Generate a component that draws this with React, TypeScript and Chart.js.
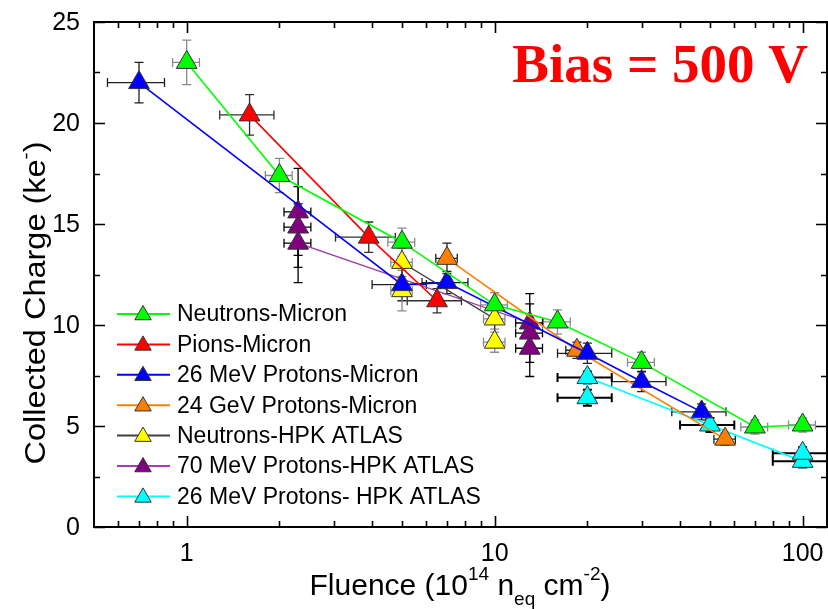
import React, { useEffect, useRef } from "react";
import { Chart, registerables } from "chart.js";

Chart.register(...registerables);

// ---------- data ----------
const seriesNames = [
  "Neutrons-Micron",
  "Pions-Micron",
  "26 MeV Protons-Micron",
  "24 GeV Protons-Micron",
  "Neutrons-HPK ATLAS",
  "70 MeV Protons-HPK ATLAS",
  "26 MeV Protons- HPK ATLAS",
];

const neutronsMicronX = [1, 2, 5, 10, 16, 30, 70, 100];
const neutronsMicronY = [23.0, 17.4, 14.1, 11.0, 10.15, 8.15, 4.95, 5.05];
const neutronsMicronYErr = [1.1, 0.85, 0.7, 0.6, 0.6, 0.5, 0.35, 0.35];
const neutronsMicronXErr = [0.1, 0.1, 0.1, 0.1, 0.1, 0.1, 0.1, 0.1];

const pionsMicronX = [1.6, 3.9, 6.5];
const pionsMicronY = [20.4, 14.35, 11.2];
const pionsMicronYErr = [1.0, 0.75, 0.6];
const pionsMicronXErr = [0.2, 0.22, 0.2];

const protons26MicronX = [0.7, 5, 7, 20, 30, 47];
const protons26MicronY = [22.0, 12.0, 12.1, 8.6, 7.2, 5.7];
const protons26MicronYErr = [1.0, 0.8, 0.55, 0.5, 0.5, 0.4];
const protons26MicronXErr = [0.21, 0.2, 0.17, 0.2, 0.2, 0.2];

const protons24GeVMicronX = [7, 18.5, 56];
const protons24GeVMicronY = [13.3, 8.75, 4.35];
const protons24GeVMicronYErr = [0.75, 0.4, 0.3];
const protons24GeVMicronXErr = [0.08, 0.08, 0.08];

const neutronsHpkX = [5, 5, 10, 10];
const neutronsHpkY = [11.7, 13.1, 10.3, 9.15];
const neutronsHpkYErr = [1.0, 0.7, 0.5, 0.5];
const neutronsHpkXErr = [0.08, 0.08, 0.08, 0.08];

const protons70HpkX = [2.3, 2.3, 2.3, 13, 13, 13];
const protons70HpkY = [15.6, 14.85, 14.05, 10.1, 9.6, 8.85];
const protons70HpkYErr = [2.15, 2.0, 1.95, 1.45, 1.45, 1.4];
const protons70HpkXErr = [0.1, 0.1, 0.1, 0.1, 0.1, 0.1];

const protons26HpkX = [20, 20, 50, 100, 100];
const protons26HpkY = [6.4, 7.4, 5.05, 3.25, 3.65];
const protons26HpkYErr = [0.4, 0.3, 0.35, 0.3, 0.3];
const protons26HpkXErr = [0.2, 0.2, 0.2, 0.2, 0.2];

const xMajorTicks = [1, 10, 100];
const xMinorTicks = [0.6, 0.7, 0.8, 0.9, 2, 3, 4, 5, 6, 7, 8, 9, 20, 30, 40, 50, 60, 70, 80, 90];
const yMajorTicks = [0, 5, 10, 15, 20, 25];
const yMinorTicks = [2.5, 7.5, 12.5, 17.5, 22.5];

const lineColors = ["#00ff00", "#ff0000", "#0000ff", "#ff8000", "#404040", "#a040a8", "#00ffff"];
const fillColors = ["#00ff00", "#ff0000", "#0000ff", "#ff8000", "#ffff00", "#800080", "#00ffff"];
const errColors = ["#8a8a8a", "#303030", "#202020", "#202020", "#8a8a8a", "#000000", "#000000"];
const lineWidths = [1.6, 1.6, 1.6, 1.6, 1.4, 1.3, 1.8];

const FONT = "'Liberation Sans', Arial, sans-serif";

function build(xs: number[], ys: number[], ye: number[], xf: number[]) {
  return xs.map((x, i) => ({ x, y: ys[i], ye: ye[i], xf: xf[i] }));
}

const seriesData = [
  build(neutronsMicronX, neutronsMicronY, neutronsMicronYErr, neutronsMicronXErr),
  build(pionsMicronX, pionsMicronY, pionsMicronYErr, pionsMicronXErr),
  build(protons26MicronX, protons26MicronY, protons26MicronYErr, protons26MicronXErr),
  build(protons24GeVMicronX, protons24GeVMicronY, protons24GeVMicronYErr, protons24GeVMicronXErr),
  build(neutronsHpkX, neutronsHpkY, neutronsHpkYErr, neutronsHpkXErr),
  build(protons70HpkX, protons70HpkY, protons70HpkYErr, protons70HpkXErr),
  build(protons26HpkX, protons26HpkY, protons26HpkYErr, protons26HpkXErr),
];

function triangle(ctx: CanvasRenderingContext2D, x: number, y: number, r: number) {
  const s = Math.sin(Math.PI / 3) * r;
  ctx.beginPath();
  ctx.moveTo(x, y - r);
  ctx.lineTo(x + s, y + r / 2);
  ctx.lineTo(x - s, y + r / 2);
  ctx.closePath();
}

const errorBarPlugin = {
  id: "errorBars",
  beforeDatasetsDraw(chart: any) {
    const ctx = chart.ctx;
    const xs = chart.scales.x;
    const ys = chart.scales.y;
    chart.data.datasets.forEach((ds: any, di: number) => {
      ctx.save();
      ctx.strokeStyle = errColors[di];
      ctx.lineWidth = di === 6 ? 2 : 1.3;
      const cap = 4.5;
      ds.data.forEach((p: any) => {
        const px = xs.getPixelForValue(p.x);
        const py = ys.getPixelForValue(p.y);
        const y0 = ys.getPixelForValue(p.y - p.ye);
        const y1 = ys.getPixelForValue(p.y + p.ye);
        const x0 = xs.getPixelForValue(p.x * (1 - p.xf));
        const x1 = xs.getPixelForValue(p.x * (1 + p.xf));
        ctx.beginPath();
        ctx.moveTo(px, y0); ctx.lineTo(px, y1);
        ctx.moveTo(px - cap, y0); ctx.lineTo(px + cap, y0);
        ctx.moveTo(px - cap, y1); ctx.lineTo(px + cap, y1);
        ctx.moveTo(x0, py); ctx.lineTo(x1, py);
        ctx.moveTo(x0, py - cap); ctx.lineTo(x0, py + cap);
        ctx.moveTo(x1, py - cap); ctx.lineTo(x1, py + cap);
        ctx.stroke();
      });
      ctx.restore();
    });
  },
};

const framePlugin = {
  id: "frame",
  afterDraw(chart: any) {
    const ctx = chart.ctx;
    const { left, right, top, bottom } = chart.chartArea;
    const xs = chart.scales.x;
    const ys = chart.scales.y;
    ctx.save();
    ctx.strokeStyle = "#000";
    ctx.lineWidth = 2;
    ctx.strokeRect(left, top, right - left, bottom - top);
    ctx.lineWidth = 1.6;
    ctx.beginPath();
    const xt = (vals: number[], len: number) => {
      vals.forEach((v) => {
        const p = Math.round(xs.getPixelForValue(v)) + 0.5;
        ctx.moveTo(p, bottom); ctx.lineTo(p, bottom - len);
        ctx.moveTo(p, top); ctx.lineTo(p, top + len);
      });
    };
    const yt = (vals: number[], len: number) => {
      vals.forEach((v) => {
        const p = Math.round(ys.getPixelForValue(v)) + 0.5;
        ctx.moveTo(left, p); ctx.lineTo(left + len, p);
        ctx.moveTo(right, p); ctx.lineTo(right - len, p);
      });
    };
    xt(xMajorTicks, 11);
    xt(xMinorTicks, 6);
    yt(yMajorTicks, 11);
    yt(yMinorTicks, 6);
    ctx.stroke();
    // tick labels
    ctx.fillStyle = "#000";
    ctx.font = `25px ${FONT}`;
    ctx.textBaseline = "alphabetic";
    ctx.textAlign = "center";
    xMajorTicks.forEach((v) => {
      ctx.fillText(String(v), xs.getPixelForValue(v), bottom + 34);
    });
    ctx.textAlign = "right";
    ctx.textBaseline = "middle";
    yMajorTicks.forEach((v) => {
      ctx.fillText(String(v), left - 14, ys.getPixelForValue(v) + 1);
    });
    ctx.restore();
  },
};

const legendPlugin = {
  id: "customLegend",
  afterDatasetsDraw(chart: any) {
    const ctx = chart.ctx;
    const { left, bottom } = chart.chartArea;
    ctx.save();
    ctx.font = `23px ${FONT}`;
    ctx.textBaseline = "middle";
    ctx.textAlign = "left";
    seriesNames.forEach((name, i) => {
      const y = bottom - 213 + i * 30.4;
      ctx.strokeStyle = lineColors[i];
      ctx.lineWidth = 2;
      ctx.beginPath();
      ctx.moveTo(left + 23, y);
      ctx.lineTo(left + 76, y);
      ctx.stroke();
      triangle(ctx, left + 49, y + 1, 9.5);
      ctx.fillStyle = fillColors[i];
      ctx.fill();
      ctx.strokeStyle = "#333";
      ctx.lineWidth = 1;
      ctx.stroke();
      ctx.fillStyle = "#000";
      ctx.fillText(name, left + 83, y + 1);
    });
    ctx.restore();
  },
};

const titlePlugin = {
  id: "titles",
  afterDraw(chart: any) {
    const ctx = chart.ctx;
    ctx.save();
    ctx.fillStyle = "#000";
    ctx.textBaseline = "alphabetic";
    ctx.textAlign = "left";
    const big = `29px ${FONT}`;
    const small = `19px ${FONT}`;
    // y-axis title (slightly stretched along its length, as in the original)
    ctx.translate(45, 303);
    ctx.rotate(-Math.PI / 2);
    ctx.scale(1.12, 1);
    const yParts: [string, string, number][] = [
      ["Collected Charge (ke", big, 0],
      ["-", small, -13],
      [")", big, 0],
    ];
    let w = 0;
    yParts.forEach(([t, f]) => { ctx.font = f; w += ctx.measureText(t).width; });
    let cx = -w / 2;
    yParts.forEach(([t, f, dy]) => { ctx.font = f; ctx.fillText(t, cx, dy); cx += ctx.measureText(t).width; });
    ctx.setTransform(1, 0, 0, 1, 0, 0);
    // x-axis title
    const bigX = `30px ${FONT}`;
    const smallX = `19px ${FONT}`;
    const xParts: [string, string, number][] = [
      ["Fluence (10", bigX, 0],
      ["14", smallX, -15],
      [" n", bigX, 0],
      ["eq", smallX, 10],
      [" cm", bigX, 0],
      ["-2", smallX, -15],
      [")", bigX, 0],
    ];
    w = 0;
    xParts.forEach(([t, f]) => { ctx.font = f; w += ctx.measureText(t).width; });
    cx = 460 - w / 2;
    xParts.forEach(([t, f, dy]) => { ctx.font = f; ctx.fillText(t, cx, 595 + dy); cx += ctx.measureText(t).width; });
    // annotation
    ctx.font = `bold 55px 'Liberation Serif', 'Times New Roman', serif`;
    ctx.fillStyle = "#ff0000";
    ctx.textAlign = "right";
    ctx.fillText("Bias = 500 V", 808, 82);
    ctx.restore();
  },
};

export default function App() {
  const ref = useRef<HTMLCanvasElement | null>(null);
  useEffect(() => {
    if (!ref.current) return;
    const chart = new Chart(ref.current, {
      type: "scatter",
      data: {
        datasets: seriesData.map((d, i) => ({
          label: seriesNames[i],
          data: d,
          showLine: true,
          borderColor: lineColors[i],
          borderWidth: lineWidths[i],
          backgroundColor: fillColors[i],
          pointStyle: "triangle",
          pointRadius: 12,
          pointBackgroundColor: fillColors[i],
          pointBorderColor: "#333",
          pointBorderWidth: 1,
          tension: 0,
        })),
      } as any,
      options: {
        responsive: false,
        animation: false,
        layout: { autoPadding: false, padding: { top: 22, right: 1, left: 0, bottom: 0 } },
        plugins: { legend: { display: false }, tooltip: { enabled: false } },
        scales: {
          x: {
            type: "logarithmic",
            min: 0.5,
            max: 120,
            grid: { display: false, drawTicks: false },
            border: { display: false },
            afterFit: (s: any) => { s.height = 82; },
            ticks: { display: false },
          },
          y: {
            min: 0,
            max: 25,
            grid: { display: false, drawTicks: false },
            border: { display: false },
            afterFit: (s: any) => { s.width = 94; },
            ticks: { display: false },
          },
        },
      } as any,
      plugins: [errorBarPlugin, legendPlugin, framePlugin, titlePlugin],
    });
    return () => chart.destroy();
  }, []);
  return (
    <div style={{ position: "absolute", left: 0, top: 0, width: 828, height: 609, background: "#fff" }}>
      <canvas ref={ref} width={828} height={609} />
    </div>
  );
}
